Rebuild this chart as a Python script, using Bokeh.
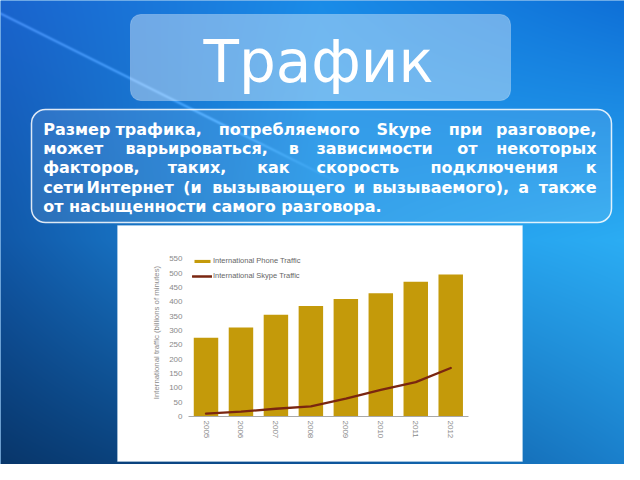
import numpy as np
from bokeh.plotting import figure
from bokeh.models import (Range1d, LinearAxis, FixedTicker, BoxAnnotation, Legend,
                          LegendItem, Label)
from bokeh.core.properties import value
from bokeh.embed import file_html
from bokeh.resources import INLINE

# ---------------- data ----------------
years = [2005, 2006, 2007, 2008, 2009, 2010, 2011, 2012]
year_labels = ["2005", "2006", "2007", "2008", "2009", "2010", "2011", "2012"]
phone_traffic = [275, 310, 355, 385, 410, 430, 470, 495]
skype_traffic = [10, 17, 27, 35, 62, 93, 120, 169]
y_ticks = [0, 50, 100, 150, 200, 250, 300, 350, 400, 450, 500, 550]

title_text = "Трафик"
body_lines = [
    ["Размер", "трафика,", "потребляемого", "Skype", "при", "разговоре,"],
    ["может", "варьироваться,", "в", "зависимости", "от", "некоторых"],
    ["факторов,", "таких,", "как", "скорость", "подключения", "к"],
    ["сети", "Интернет", "(и", "вызывающего", "и", "вызываемого),", "а", "также"],
    ["от насыщенности самого разговора."],
]
legend_labels = ["International Phone Traffic", "International Skype Traffic"]
y_axis_title = "International traffic (billions of minutes)"

# ---------------- layout (reference pixel coordinates) ----------------
W, H = 624, 464


def Y(v):
    return H - v


p = figure(width=W, height=H, x_range=Range1d(0, W), y_range=Range1d(0, H),
           x_axis_type=None, y_axis_type=None, toolbar_location=None,
           output_backend="svg", min_border=0)
p.outline_line_color = None
p.background_fill_color = "#1a80dc"
p.border_fill_color = "#1a80dc"

# background gradient
xs = np.linspace(0.5, W - 0.5, W)
ys = np.linspace(H - 0.5, 0.5, H)  # reference rows, bottom row first
XX, YY = np.meshgrid(xs, ys)
u = XX / 640.0
v = YY / 480.0
ctrl = {
    "r": [[26, 26, 14], [17, 33, 44], [8, 12, 26]],
    "g": [[100, 140, 110], [88, 152, 174], [52, 79, 127]],
    "b": [[206, 232, 214], [168, 232, 244], [102, 148, 204]],
}
gu = [0.0, 0.5, 1.0]


def interp2(c):
    rows = [np.interp(u, gu, c[i]) for i in range(3)]
    t = np.clip(v / 0.5, 0, 1)
    t2 = np.clip((v - 0.5) / 0.5, 0, 1)
    return np.where(v < 0.5, rows[0] * (1 - t) + rows[1] * t, rows[1] * (1 - t2) + rows[2] * t2)


R = interp2(ctrl["r"])
G = interp2(ctrl["g"])
B = interp2(ctrl["b"])
# faint diagonal light streak
d = np.abs(YY - (13 + 0.5 * XX)) / np.sqrt(1.25)
streak = 40 * np.exp(-(d / 1.4) ** 2) * np.clip((340 - XX) / 120, 0, 1)
R, G, B = R + streak, G + streak, B + streak
img = np.empty((H, W, 4), dtype=np.uint8)
img[..., 0] = np.clip(R, 0, 255)
img[..., 1] = np.clip(G, 0, 255)
img[..., 2] = np.clip(B, 0, 255)
img[..., 3] = 255
p.image_rgba(image=[img.view(np.uint32).reshape(H, W)], x=0, y=0, dw=W, dh=H, level="image")

# title box
p.add_layout(BoxAnnotation(left=130, right=510, top=Y(14), bottom=Y(100), fill_color="white",
                           fill_alpha=0.38, line_color="white", line_alpha=0.25, line_width=1,
                           border_radius=10, level="underlay"))
TITLE_SIZE = 58
p.add_layout(Label(x=318, y=Y(81.7 - 0.35 * TITLE_SIZE), text=title_text, text_align="center",
                   text_baseline="alphabetic", text_font="DejaVu Sans",
                   text_font_size=f"{TITLE_SIZE}px", text_color="white"))

# text box
p.add_layout(BoxAnnotation(left=31, right=611, top=Y(109), bottom=Y(222), fill_color="white",
                           fill_alpha=0.1, line_color="white", line_alpha=0.85, line_width=1.5,
                           border_radius=14, level="underlay"))
BODY_SIZE = 16
word_x = [
    [42.7, 115, 218.3, 376, 448.3],
    [42.7, 125, 288.3, 316, 456.7],
    [42.7, 167.3, 256.7, 316, 430],
    [42.7, 86, 182.7, 211.7, 353.3, 371.7, 517.7],
    [42.7],
]
baselines = [134.3, 153.6, 172.9, 192.2, 211.5]
shift = 0.35 * BODY_SIZE
lx, ly, lt, rx, ry, rt = [], [], [], [], [], []
for i, words in enumerate(body_lines):
    yy = Y(baselines[i] - shift)
    if i < len(body_lines) - 1:
        for w, x in zip(words[:-1], word_x[i]):
            lx.append(x); ly.append(yy); lt.append(w)
        rx.append(596); ry.append(yy); rt.append(words[-1])
    else:
        lx.append(word_x[i][0]); ly.append(yy); lt.append(words[0])
common = dict(text_font=value("DejaVu Sans"), text_font_style="bold",
              text_font_size=f"{BODY_SIZE}px", text_color="white", text_baseline="alphabetic")
p.text(x=lx, y=ly, text=lt, text_align="left", **common)
p.text(x=rx, y=ry, text=rt, text_align="right", **common)

# chart panel
p.add_layout(BoxAnnotation(left=117, right=522, top=Y(225), bottom=Y(461), fill_color="white",
                           fill_alpha=1, line_color="#d8ecfa", line_width=1, level="underlay"))

# chart scales
BAR0_X, PITCH = 205.5, 34.96           # pixel centre of first bar and bar spacing
ZERO_Y, UNIT = Y(416), 157.7 / 550     # pixel row of value 0 and pixels per unit
p.extra_x_ranges["cx"] = Range1d(years[0] - BAR0_X / PITCH, years[0] + (W - BAR0_X) / PITCH)
p.extra_y_ranges["cy"] = Range1d(-ZERO_Y / UNIT, (H - ZERO_Y) / UNIT)

bars = p.vbar(x=years, top=phone_traffic, bottom=0, width=0.7, x_range_name="cx", y_range_name="cy",
              fill_color="#c49a0a", line_color=None)
skype = p.line(x=years, y=skype_traffic, x_range_name="cx", y_range_name="cy",
               line_color="#7a2610", line_width=2.3, line_join="round", line_cap="round")

grey = "#8a8a8a"
yax = LinearAxis(y_range_name="cy", ticker=FixedTicker(ticks=y_ticks), bounds=(0, 585),
                 fixed_location=184, axis_line_color=None, major_tick_line_color=None,
                 minor_tick_line_color=None, major_tick_in=0, major_tick_out=0,
                 major_label_text_font_size="8px", major_label_text_color=grey,
                 major_label_text_font="Liberation Sans", major_label_standoff=2,
                 axis_label=y_axis_title, axis_label_text_font_size="7.8px",
                 axis_label_text_color=grey, axis_label_text_font_style="normal",
                 axis_label_text_font="Liberation Sans", axis_label_standoff=5)
p.add_layout(yax, "left")

xax = LinearAxis(x_range_name="cx", y_range_name="cy", ticker=FixedTicker(ticks=years),
                 bounds=(years[0] - 0.5, years[-1] + 0.5), fixed_location=0,
                 major_label_overrides={y: s for y, s in zip(years, year_labels)},
                 axis_line_color="#a8a8a8", axis_line_width=1, major_tick_line_color=None,
                 minor_tick_line_color=None, major_tick_in=0, major_tick_out=0,
                 major_label_orientation="vertical", major_label_text_font_size="8px",
                 major_label_text_color=grey, major_label_text_font="Liberation Sans",
                 major_label_standoff=4)
p.add_layout(xax, "below")

legend = Legend(items=[LegendItem(label=legend_labels[0], renderers=[bars]),
                       LegendItem(label=legend_labels[1], renderers=[skype])],
                location=(192, 184), orientation="vertical", padding=0, margin=0, spacing=6,
                glyph_width=20, glyph_height=4, label_height=4, label_standoff=1,
                label_text_font_size="7.5px", label_text_color="#666666",
                label_text_font="Liberation Sans", border_line_color=None,
                background_fill_alpha=0)
p.add_layout(legend)

open("out.html", "w").write(file_html(p, INLINE))
